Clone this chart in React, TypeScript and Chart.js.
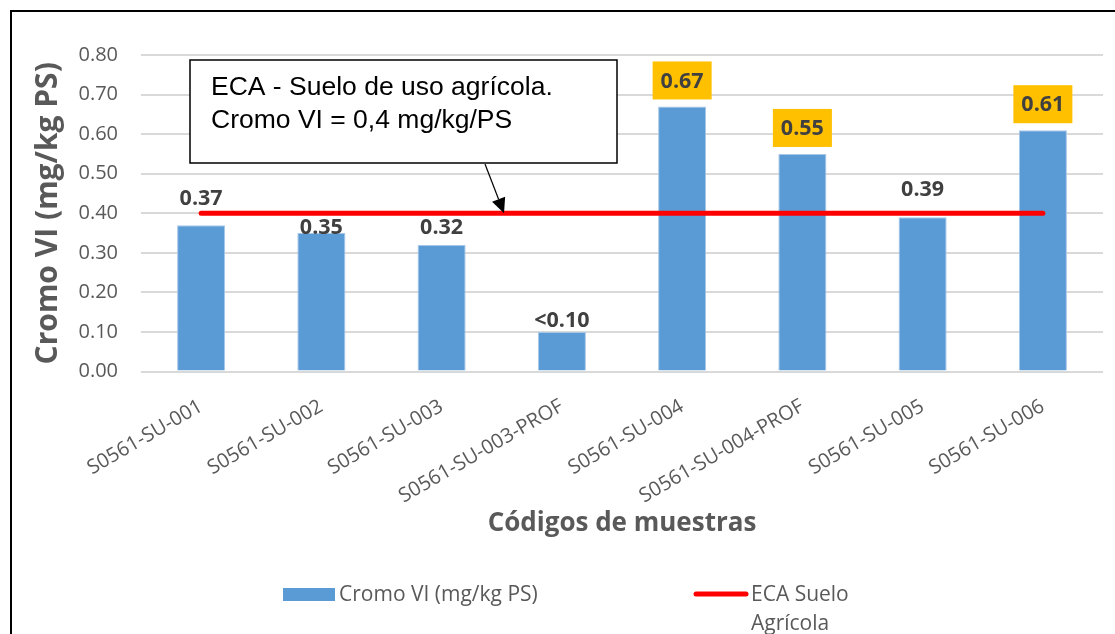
import React, { useEffect, useRef } from "react";
import { Chart, registerables } from "chart.js";

Chart.register(...registerables);

const FONT = '"Open Sans", sans-serif';
const AXIS_GRAY = "#595959";
const LABEL_GRAY = "#404040";
const BAR_BLUE = "#5B9BD5";
const LIMIT_RED = "#FF0000";
const HIGHLIGHT = "#FFC000";

const categories = [
  "S0561-SU-001",
  "S0561-SU-002",
  "S0561-SU-003",
  "S0561-SU-003-PROF",
  "S0561-SU-004",
  "S0561-SU-004-PROF",
  "S0561-SU-005",
  "S0561-SU-006",
];
const cromoValues = [0.37, 0.35, 0.32, 0.1, 0.67, 0.55, 0.39, 0.61];
const valueLabels = ["0.37", "0.35", "0.32", "<0.10", "0.67", "0.55", "0.39", "0.61"];
const ecaLimit = 0.4;
const ecaValues = [0.4, 0.4, 0.4, 0.4, 0.4, 0.4, 0.4, 0.4];

// label lift above bar top (px) — placement style only
const labelLift = [26, 5, 17, 11, 25, 25, 27, 25];

export default function App() {
  const ref = useRef<HTMLCanvasElement>(null);

  useEffect(() => {
    const canvas = ref.current;
    if (!canvas) return;

    const decor = {
      id: "decor",
      beforeDraw(chart: any) {
        const ctx = chart.ctx;
        ctx.save();
        ctx.fillStyle = "#ffffff";
        ctx.fillRect(0, 0, chart.width, chart.height);
        ctx.fillStyle = "#000000";
        ctx.fillRect(10, 10, chart.width - 10, 2);
        ctx.fillRect(10, 10, 2, chart.height - 10);
        ctx.restore();
      },
      afterDatasetsDraw(chart: any) {
        const ctx = chart.ctx;
        const meta = chart.getDatasetMeta(1);
        ctx.save();
        ctx.font = `bold 21.5px ${FONT}`;
        ctx.textAlign = "center";
        ctx.textBaseline = "middle";
        meta.data.forEach((el: any, i: number) => {
          const text = valueLabels[i];
          const cx = el.x;
          const cy = el.y - labelLift[i];
          if (cromoValues[i] > ecaLimit) {
            const w = ctx.measureText(text).width + 16;
            const h = 38;
            ctx.fillStyle = HIGHLIGHT;
            ctx.fillRect(cx - w / 2, cy - h / 2 - 1, w, h);
          }
          ctx.fillStyle = LABEL_GRAY;
          ctx.fillText(text, cx, cy);
        });

        // annotation callout
        const yLim = chart.scales.y.getPixelForValue(ecaLimit);
        const bx = 190, by = 60, bw = 427, bh = 103;
        ctx.fillStyle = "#ffffff";
        ctx.fillRect(bx, by, bw, bh);
        ctx.strokeStyle = "#000000";
        ctx.lineWidth = 1.5;
        ctx.strokeRect(bx, by, bw, bh);
        ctx.fillStyle = "#000000";
        ctx.font = `26.5px "Liberation Sans", Arial, sans-serif`;
        ctx.textAlign = "left";
        ctx.textBaseline = "alphabetic";
        ctx.fillText("ECA - Suelo de uso agrícola.", 211, 95);
        ctx.fillText("Cromo VI = 0,4 mg/kg/PS", 211, 128);

        // arrow
        const x0 = 485, y0 = by + bh + 1;
        const x1 = 504, y1 = yLim;
        const ang = Math.atan2(y1 - y0, x1 - x0);
        const headLen = 15, headW = 7;
        const bxh = x1 - headLen * Math.cos(ang);
        const byh = y1 - headLen * Math.sin(ang);
        ctx.strokeStyle = "#000000";
        ctx.lineWidth = 1.2;
        ctx.beginPath();
        ctx.moveTo(x0, y0);
        ctx.lineTo(bxh, byh);
        ctx.stroke();
        ctx.beginPath();
        ctx.moveTo(x1, y1);
        ctx.lineTo(bxh + headW * Math.sin(ang), byh - headW * Math.cos(ang));
        ctx.lineTo(bxh - headW * Math.sin(ang), byh + headW * Math.cos(ang));
        ctx.closePath();
        ctx.fill();
        ctx.restore();
      },
      afterDraw(chart: any) {
        const ctx = chart.ctx;
        ctx.save();
        ctx.fillStyle = BAR_BLUE;
        ctx.fillRect(283, 588, 52, 13);
        ctx.fillStyle = AXIS_GRAY;
        ctx.font = `21px ${FONT}`;
        ctx.textAlign = "left";
        ctx.textBaseline = "middle";
        ctx.fillText("Cromo VI (mg/kg PS)", 339, 595);
        ctx.strokeStyle = LIMIT_RED;
        ctx.lineWidth = 5;
        ctx.lineCap = "round";
        ctx.beginPath();
        ctx.moveTo(696, 594);
        ctx.lineTo(746, 594);
        ctx.stroke();
        ctx.fillText("ECA Suelo", 751, 595);
        ctx.fillText("Agrícola", 751, 624);
        ctx.restore();
      },
    };

    const chart = new Chart(canvas, {
      type: "bar",
      data: {
        labels: categories,
        datasets: [
          {
            type: "line",
            label: "ECA Suelo Agrícola",
            data: ecaValues,
            borderColor: LIMIT_RED,
            backgroundColor: LIMIT_RED,
            borderWidth: 5,
            borderCapStyle: "round",
            pointRadius: 0,
            order: 0,
          } as any,
          {
            type: "bar",
            label: "Cromo VI (mg/kg PS)",
            data: cromoValues,
            backgroundColor: BAR_BLUE,
            borderColor: "#a8c8e8",
            borderWidth: 1,
            barPercentage: 0.4,
            categoryPercentage: 1,
            order: 1,
          },
        ],
      },
      options: {
        responsive: false,
        animation: false,
        devicePixelRatio: 1,
        layout: { padding: { left: 26, top: 55, right: 12, bottom: 91 } },
        plugins: {
          legend: { display: false },
          tooltip: { enabled: false },
        },
        scales: {
          x: {
            grid: { display: false },
            border: { display: false },
            ticks: {
              color: AXIS_GRAY,
              font: { family: FONT, size: 20 },
              minRotation: 30,
              maxRotation: 30,
              autoSkip: false,
              padding: 15,
            },
            title: {
              display: true,
              text: "Códigos de muestras",
              color: AXIS_GRAY,
              font: { family: FONT, size: 26, weight: "bold" },
            },
            afterFit(scale: any) {
              scale.height = 171.4;
            },
          },
          y: {
            min: 0,
            max: 0.8,
            grid: { color: "#d9d9d9", lineWidth: 2, drawTicks: false },
            border: { display: false },
            ticks: {
              stepSize: 0.1,
              color: AXIS_GRAY,
              font: { family: FONT, size: 20 },
              padding: 23,
              callback: (v: any) => Number(v).toFixed(2),
            },
            title: {
              display: true,
              text: "Cromo VI (mg/kg PS)",
              color: AXIS_GRAY,
              font: { family: FONT, size: 30, weight: "bold" },
            },
            afterFit(scale: any) {
              scale.width = 115;
            },
          },
        },
      },
      plugins: [decor],
    });

    return () => chart.destroy();
  }, []);

  return (
    <div style={{ position: "absolute", left: 0, top: 0, width: 1115, height: 634, background: "#fff" }}>
      <canvas ref={ref} width={1115} height={634} style={{ display: "block", width: 1115, height: 634 }} />
    </div>
  );
}
